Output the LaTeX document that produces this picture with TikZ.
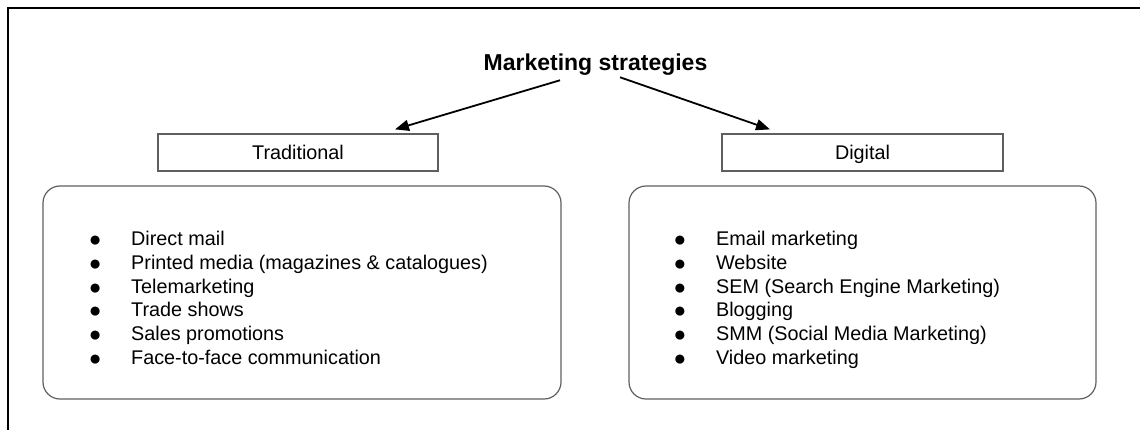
\documentclass[tikz,border=0pt]{standalone}
\usepackage{fontspec}
\setmainfont{Liberation Sans}
\usetikzlibrary{arrows.meta,calc}
\definecolor{boxline}{RGB}{95,95,95}
\newcommand{\bigbul}{\makebox[41.4pt][l]{\hspace{-1.0pt}\raisebox{-1.0pt}{\fontsize{21}{21}\selectfont ●}}}
\begin{document}
\begin{tikzpicture}[x=1pt,y=-1pt,
  framel/.style={line width=1.8pt,black},
  catbox/.style={draw=boxline,line width=1.2pt,minimum height=37pt,inner sep=0pt,
    text height=15pt,text depth=0pt,font=\fontsize{19.8}{23.6}\selectfont},
  listbox/.style={draw=boxline,line width=1.2pt,rounded corners=17pt,minimum height=213pt,inner sep=0pt},
  item/.style={inner sep=0pt,anchor=base west,font=\fontsize{19.8}{23.6}\selectfont},
  arr/.style={line width=1.8pt,-{Triangle[length=14pt,width=11pt]}},
  ttl/.style={inner sep=0pt,font=\fontsize{23}{27}\selectfont\bfseries}]
\useasboundingbox (0,0) rectangle (1140,430);
\coordinate (fb) at (8,430);
\coordinate (fc) at (8,8);
\coordinate (fr) at (1140,8);
\draw[framel] (fb) -- (fc) -- (fr);
\node[ttl,anchor=base] (title) at (595.5,71) {Marketing strategies};
\node[catbox,minimum width=280pt] (trad) at (298,152.5) {Traditional};
\node[catbox,minimum width=281pt] (dig) at (862.5,152.5) {Digital};
\node[listbox,minimum width=518pt] (lbox) at (302,292.5) {};
\node[listbox,minimum width=467pt] (rbox) at (862.5,292.5) {};
\draw[arr] ($(title.south)+(-35.5,4.2)$) -- ($(trad.north)+(97,-4)$);
\draw[arr] ($(title.south)+(24.5,1.2)$) -- ($(dig.north)+(-92.5,-4)$);
\foreach \t [count=\i] in {Direct mail,Printed media (magazines \& catalogues),Telemarketing,Trade shows,Sales promotions,Face-to-face communication}
  \node[item] (L\i) at (89.6,{246+23.6*(\i-1)}) {\bigbul\t};
\foreach \t [count=\i] in {Email marketing,Website,SEM (Search Engine Marketing),Blogging,SMM (Social Media Marketing),Video marketing}
  \node[item] (R\i) at (674.5,{246+23.6*(\i-1)}) {\bigbul\t};
\end{tikzpicture}
\end{document}
